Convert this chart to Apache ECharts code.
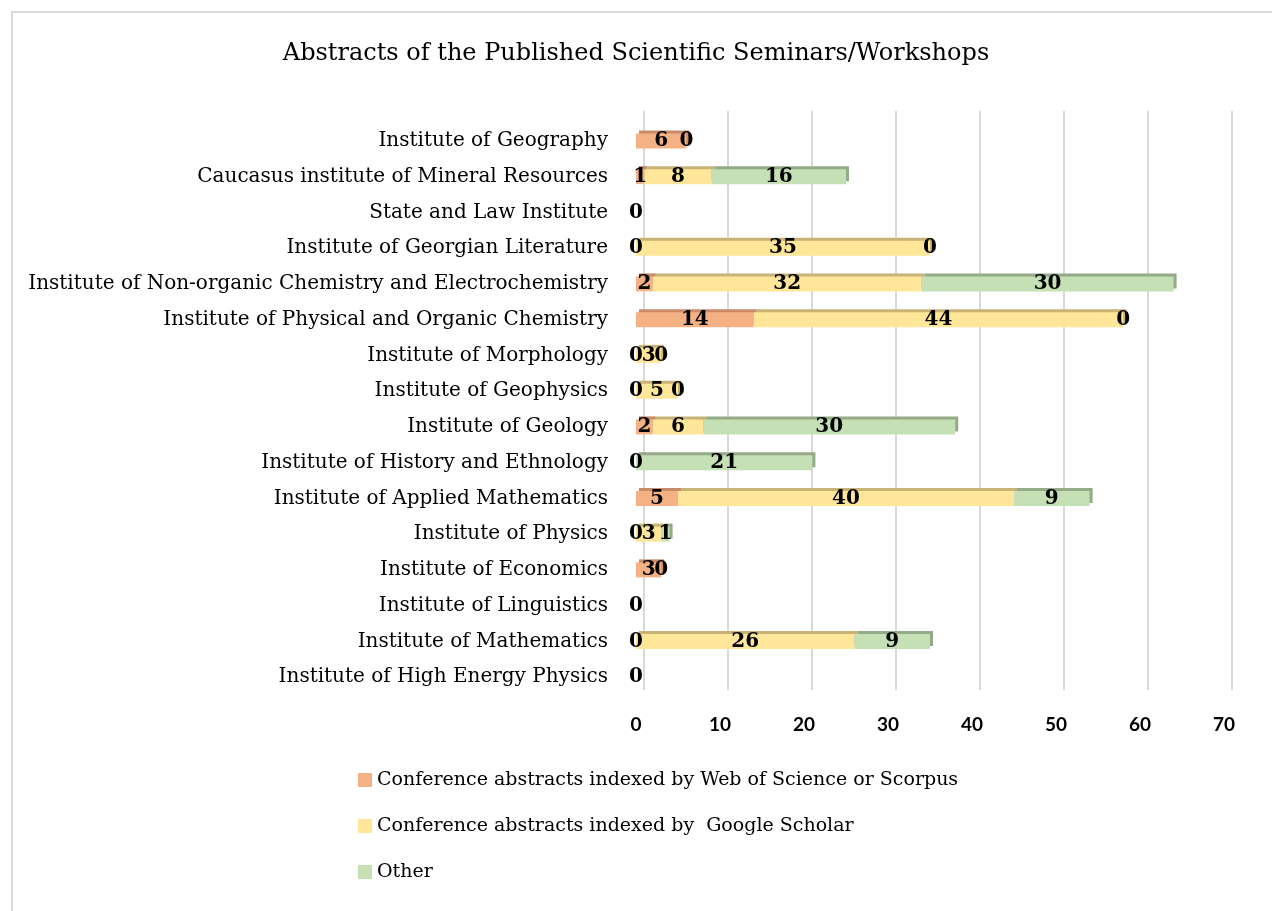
<!DOCTYPE html>
<html>
<head>
<meta charset="utf-8">
<script src="https://cdn.jsdelivr.net/npm/echarts@6/dist/echarts.min.js"></script>
<style>
html,body{margin:0;padding:0;background:#fff;}
#chart{width:1272px;height:911px;}
</style>
</head>
<body>
<div id="chart"></div>
<script>
// Categories listed bottom to top (ECharts category y-axis starts at the bottom)
const categories = [
  'Institute of High Energy Physics',
  'Institute of Mathematics',
  'Institute of Linguistics',
  'Institute of Economics',
  'Institute of Physics',
  'Institute of Applied Mathematics',
  'Institute of History and Ethnology',
  'Institute of Geology',
  'Institute of Geophysics',
  'Institute of Morphology',
  'Institute of Physical and Organic Chemistry',
  'Institute of Non-organic Chemistry and Electrochemistry',
  'Institute of Georgian Literature',
  'State and Law Institute',
  'Caucasus institute of Mineral Resources',
  'Institute of Geography'
];
const wosScopus     = [0, 0, 0, 3, 0, 5, 0, 2, 0, 0, 14, 2, 0, 0, 1, 6];
const googleScholar = [null, 26, null, 0, 3, 40, null, 6, 5, 3, 44, 32, 35, null, 8, 0];
const other         = [null, 9, null, null, 1, 9, 21, 30, 0, 0, 0, 30, 0, null, 16, null];
const xTicks = [0, 10, 20, 30, 40, 50, 60, 70];

const seriesNames = [
  'Conference abstracts indexed by Web of Science or Scorpus',
  'Conference abstracts indexed by  Google Scholar',
  'Other'
];
const colors = ['#F4B183', '#FFE699', '#C5E0B4'];
const edgeColors = ['#C98B68', '#C9B276', '#94AA88'];
const SERIF = 'DejaVu Serif';

const chart = echarts.init(document.getElementById('chart'));

function mkSeries(i, data) {
  return {
    name: seriesNames[i],
    type: 'bar',
    stack: 'total',
    xAxisIndex: 0,
    yAxisIndex: 0,
    barWidth: 15,
    data: data,
    itemStyle: {
      color: colors[i],
      shadowColor: edgeColors[i],
      shadowOffsetX: 3,
      shadowOffsetY: -3,
      shadowBlur: 0
    },
    label: {
      show: true,
      position: 'inside',
      color: '#000',
      fontFamily: SERIF,
      fontWeight: 'bold',
      fontSize: 20,
      formatter: p => (p.value === null || p.value === undefined) ? '' : String(p.value)
    },
    labelLayout: { hideOverlap: false }
  };
}

chart.setOption({
  backgroundColor: '#fff',
  animation: false,
  title: {
    text: 'Abstracts of the Published Scientific Seminars/Workshops',
    left: 'center',
    top: 37,
    textStyle: { fontFamily: SERIF, fontSize: 24, fontWeight: 'normal', color: '#000' }
  },
  graphic: [{
    type: 'rect',
    shape: { x: 12, y: 12, width: 1300, height: 950 },
    style: { fill: 'none', stroke: '#D9D9D9', lineWidth: 2 },
    silent: true, z: -10
  }],
  legend: {
    orient: 'vertical',
    left: 353,
    top: 764,
    itemWidth: 14,
    itemHeight: 14,
    itemGap: 24,
    icon: 'rect',
    data: seriesNames,
    textStyle: { fontFamily: SERIF, fontSize: 19, color: '#000', lineHeight: 22 }
  },
  grid: [
    { left: 636, right: 48, top: 123, bottom: 216 },
    { left: 644, right: 40, top: 111, bottom: 221 }
  ],
  xAxis: [
    {
      gridIndex: 0, type: 'value', min: xTicks[0], max: xTicks[xTicks.length - 1], interval: 10,
      axisLine: { show: false }, axisTick: { show: false },
      splitLine: { show: false },
      axisLabel: { margin: 20, color: '#000', fontFamily: 'Lato', fontWeight: 'bold', fontSize: 19 }
    },
    {
      gridIndex: 1, type: 'value', min: xTicks[0], max: xTicks[xTicks.length - 1], interval: 10,
      axisLine: { show: false }, axisTick: { show: false }, axisLabel: { show: false },
      splitLine: { show: true, lineStyle: { color: '#D9D9D9', width: 2 } }
    }
  ],
  yAxis: [
    {
      gridIndex: 0, type: 'category', data: categories,
      axisLine: { show: false }, axisTick: { show: false },
      axisLabel: { margin: 28, color: '#000', fontFamily: SERIF, fontSize: 20 }
    },
    {
      gridIndex: 1, type: 'category', data: categories, show: false
    }
  ],
  series: [
    mkSeries(0, wosScopus),
    mkSeries(1, googleScholar),
    mkSeries(2, other)
  ]
});
</script>
</body>
</html>
